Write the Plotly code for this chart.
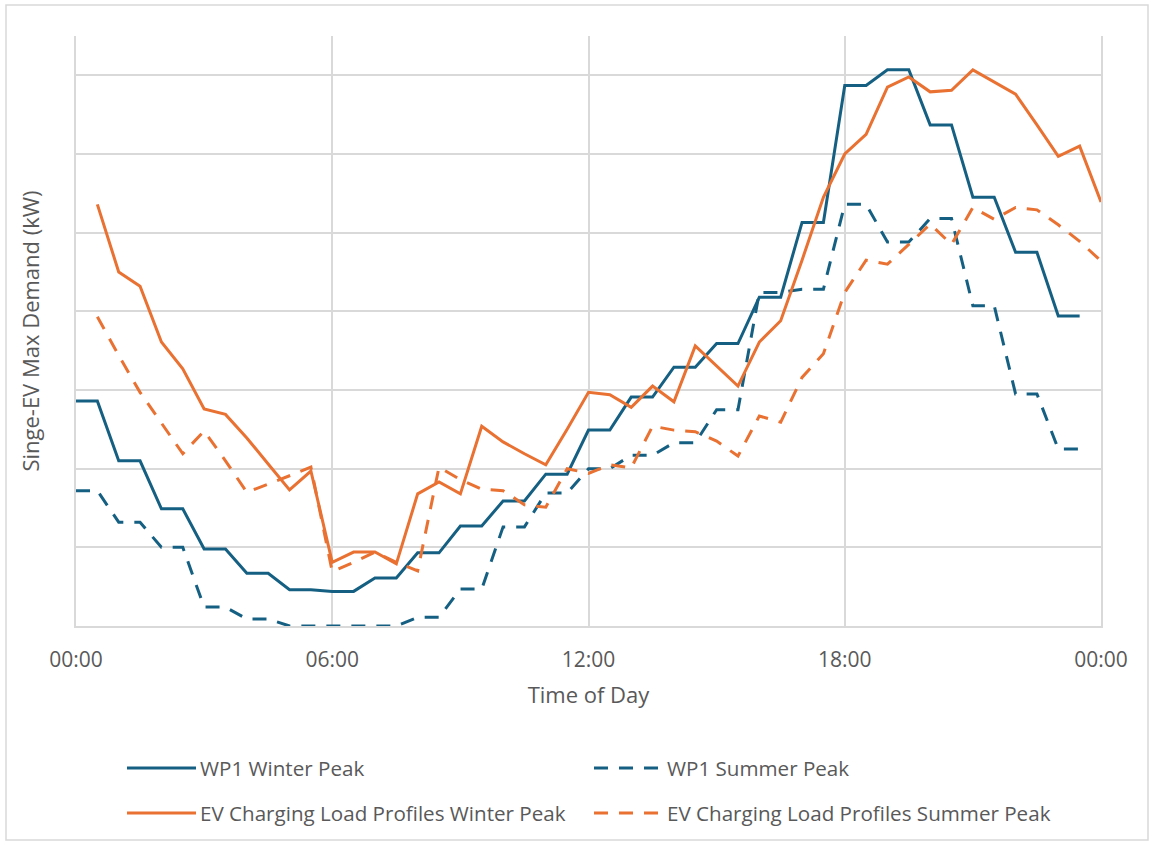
import plotly.graph_objects as go

# Half-hourly time grid (hours after midnight)
wp1_hours = [0.0, 0.5, 1.0, 1.5, 2.0, 2.5, 3.0, 3.5, 4.0, 4.5, 5.0, 5.5,
             6.0, 6.5, 7.0, 7.5, 8.0, 8.5, 9.0, 9.5, 10.0, 10.5, 11.0, 11.5,
             12.0, 12.5, 13.0, 13.5, 14.0, 14.5, 15.0, 15.5, 16.0, 16.5, 17.0, 17.5,
             18.0, 18.5, 19.0, 19.5, 20.0, 20.5, 21.0, 21.5, 22.0, 22.5, 23.0, 23.5]
ev_hours = [0.5, 1.0, 1.5, 2.0, 2.5, 3.0, 3.5, 4.0, 4.5, 5.0, 5.5, 6.0,
            6.5, 7.0, 7.5, 8.0, 8.5, 9.0, 9.5, 10.0, 10.5, 11.0, 11.5, 12.0,
            12.5, 13.0, 13.5, 14.0, 14.5, 15.0, 15.5, 16.0, 16.5, 17.0, 17.5, 18.0,
            18.5, 19.0, 19.5, 20.0, 20.5, 21.0, 21.5, 22.0, 22.5, 23.0, 23.5, 24.0]

# WP1 profiles: hourly values held across each half-hour pair (kW)
wp1_winter = [2.86, 2.86, 2.10, 2.10, 1.49, 1.49, 0.98, 0.98, 0.67, 0.67, 0.46, 0.46,
              0.44, 0.44, 0.61, 0.61, 0.93, 0.93, 1.27, 1.27, 1.59, 1.59, 1.93, 1.93,
              2.49, 2.49, 2.91, 2.91, 3.29, 3.29, 3.59, 3.59, 4.18, 4.18, 5.13, 5.13,
              6.87, 6.87, 7.07, 7.07, 6.37, 6.37, 5.45, 5.45, 4.75, 4.75, 3.94, 3.94]
wp1_summer = [1.72, 1.72, 1.32, 1.32, 1.00, 1.00, 0.24, 0.24, 0.09, 0.09, 0.00, 0.00,
              0.00, 0.00, 0.00, 0.00, 0.11, 0.11, 0.47, 0.47, 1.26, 1.26, 1.69, 1.69,
              2.00, 2.00, 2.17, 2.17, 2.33, 2.33, 2.75, 2.75, 4.24, 4.24, 4.28, 4.28,
              5.36, 5.36, 4.88, 4.88, 5.18, 5.18, 4.07, 4.07, 2.95, 2.95, 2.25, 2.25]

# EV charging load profiles, half-hourly (kW)
ev_winter = [5.36, 4.50, 4.32, 3.61, 3.27, 2.76, 2.69, 2.39, 2.06, 1.73, 1.97, 0.81,
             0.94, 0.94, 0.79, 1.68, 1.83, 1.68, 2.54, 2.34, 2.19, 2.05, 2.50, 2.97,
             2.94, 2.78, 3.05, 2.85, 3.56, 3.30, 3.05, 3.61, 3.88, 4.65, 5.45, 6.00,
             6.25, 6.85, 6.98, 6.79, 6.81, 7.07, 6.91, 6.76, 6.37, 5.97, 6.10, 5.39]
ev_summer = [3.93, 3.44, 2.97, 2.58, 2.19, 2.48, 2.10, 1.70, 1.80, 1.91, 2.02, 0.69,
             0.81, 0.94, 0.81, 0.70, 2.02, 1.86, 1.74, 1.72, 1.54, 1.51, 2.00, 1.94,
             2.05, 2.01, 2.54, 2.49, 2.47, 2.35, 2.16, 2.67, 2.59, 3.16, 3.46, 4.24,
             4.65, 4.60, 4.85, 5.11, 4.85, 5.32, 5.17, 5.32, 5.29, 5.10, 4.89, 4.64]

tick_hours = [0, 6, 12, 18, 24]
tick_labels = ["00:00", "06:00", "12:00", "18:00", "00:00"]

series_names = ["WP1 Winter Peak", "WP1 Summer Peak",
                "EV Charging Load Profiles Winter Peak",
                "EV Charging Load Profiles Summer Peak"]

BLUE = "#156082"
ORANGE = "#E97132"
GRID = "#d9d9d9"
TEXT = "#595959"
FONT = "Open Sans"
DASH = "14px,11px"

W, H = 1153, 845
L, R, T, B = 76, 52, 36, 219
PW, PH = W - L - R, H - T - B


def px_x(x):
    return (x - L) / PW


def px_y(y):
    return (H - B - y) / PH


series = [
    (wp1_hours, wp1_winter, series_names[0], BLUE, "solid"),
    (wp1_hours, wp1_summer, series_names[1], BLUE, DASH),
    (ev_hours, ev_winter, series_names[2], ORANGE, "solid"),
    (ev_hours, ev_summer, series_names[3], ORANGE, DASH),
]

fig = go.Figure()
for xs, ys, name, color, dash in series:
    fig.add_trace(go.Scatter(
        x=xs, y=ys, name=name, mode="lines", showlegend=False,
        line=dict(color=color, width=3, dash=dash),
    ))

# Two-column legend beneath the plot
shapes = []
annotations = []
legend_slots = [(127, 768), (594, 768), (127, 813), (594, 813)]
for (xs, ys, name, color, dash), (lx, ly) in zip(series, legend_slots):
    shapes.append(dict(
        type="line", xref="paper", yref="paper",
        x0=px_x(lx), x1=px_x(lx + 69), y0=px_y(ly), y1=px_y(ly),
        line=dict(color=color, width=3, dash=dash),
    ))
    annotations.append(dict(
        xref="paper", yref="paper", x=px_x(lx + 71), y=px_y(ly),
        xanchor="left", yanchor="middle", showarrow=False, text=name,
        font=dict(family=FONT, size=20.6, color=TEXT),
    ))

# Outer chart border
shapes.append(dict(
    type="rect", xref="paper", yref="paper",
    x0=px_x(6), x1=px_x(1148), y0=px_y(840), y1=px_y(5),
    line=dict(color=GRID, width=1.5), fillcolor="rgba(0,0,0,0)", layer="below",
))

fig.update_layout(
    width=W, height=H,
    margin=dict(l=L, r=R, t=T, b=B),
    paper_bgcolor="white", plot_bgcolor="white",
    font=dict(family=FONT, color=TEXT),
    shapes=shapes, annotations=annotations,
    xaxis=dict(
        range=[0, 24], tickvals=tick_hours, ticktext=tick_labels,
        showgrid=True, gridcolor=GRID, gridwidth=2,
        showline=True, linecolor=GRID, linewidth=2,
        zeroline=False, ticks="", ticklabelstandoff=14,
        tickfont=dict(family=FONT, size=21, color=TEXT),
        title=dict(text="Time of Day", font=dict(family=FONT, size=22, color=TEXT), standoff=15),
        automargin=False,
    ),
    yaxis=dict(
        range=[0, 7.5], dtick=1, showticklabels=False,
        showgrid=True, gridcolor=GRID, gridwidth=2,
        showline=True, linecolor=GRID, linewidth=2, mirror=True,
        zeroline=False, ticks="",
        title=dict(text="Singe-EV Max Demand (kW)", font=dict(family=FONT, size=22, color=TEXT), standoff=28),
        automargin=False,
    ),
)

fig.write_html("out.html")
